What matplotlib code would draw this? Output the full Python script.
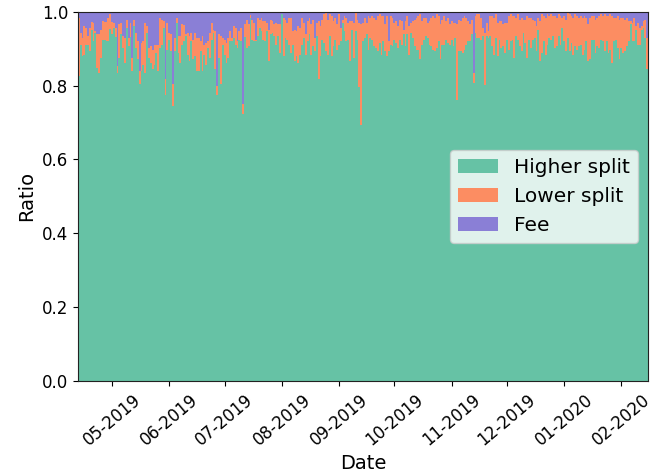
import numpy as np
import pandas as pd
import matplotlib
matplotlib.use("Agg")
import matplotlib.pyplot as plt
import matplotlib.dates as mdates

# daily ratios, 2019-04-13 .. 2020-02-15
start_date = "2019-04-13"

higher = [
    0.826, 0.911, 0.880, 0.884, 0.911, 0.911, 0.895, 0.952, 0.921, 0.943,
    0.848, 0.835, 0.875, 0.925, 0.925, 0.922, 0.921, 0.955, 0.940, 0.957,
    0.931, 0.835, 0.875, 0.939, 0.902, 0.862, 0.957, 0.907, 0.931, 0.839,
    0.961, 0.902, 0.871, 0.805, 0.839, 0.857, 0.835, 0.943, 0.875, 0.862,
    0.844, 0.857, 0.889, 0.839,
    0.902, 0.911, 0.957, 0.776, 0.898, 0.925, 0.893, 0.746, 0.893, 0.970,
    0.889, 0.862, 0.911, 0.921, 0.934, 0.884, 0.866, 0.921, 0.871, 0.880,
    0.839, 0.839, 0.893, 0.839, 0.884, 0.857, 0.902, 0.875, 0.925, 0.943,
    0.844, 0.774, 0.875, 0.805, 0.911, 0.884, 0.862, 0.875, 0.921, 0.921,
    0.930, 0.911, 0.902, 0.925, 0.921,
    0.724, 0.931, 0.902, 0.907, 0.984, 0.925, 0.921, 0.921, 0.934, 0.957,
    0.948, 0.925, 0.921, 0.948, 0.866, 0.939, 0.943, 0.934, 0.911, 0.934,
    0.889, 0.993, 0.880, 0.930, 0.925, 0.911, 0.889, 0.911, 0.866, 0.880,
    0.862, 0.884, 0.911, 0.930, 0.884, 0.921, 0.939, 0.884, 0.907, 0.893,
    0.934, 0.818, 0.880, 0.925,
    0.916, 0.893, 0.884, 0.934, 0.880, 0.907, 0.925, 0.898, 0.911, 0.921,
    0.970, 0.948, 0.921, 0.925, 0.866, 0.952, 0.875, 0.948, 0.925, 0.797,
    0.693, 0.921, 0.930, 0.939, 0.898, 0.930, 0.925, 0.907, 0.902, 0.893,
    0.916, 0.884, 0.921, 0.893, 0.880, 0.893, 0.911, 0.907, 0.925, 0.916,
    0.902, 0.925, 0.911, 0.939, 0.907,
    0.939, 0.884, 0.943, 0.930, 0.907, 0.898, 0.898, 0.871, 0.911, 0.925,
    0.934, 0.930, 0.911, 0.907, 0.898, 0.893, 0.902, 0.921, 0.871, 0.911,
    0.911, 0.925, 0.916, 0.911, 0.925, 0.907, 0.930, 0.762, 0.893, 0.893,
    0.889, 0.898, 0.911, 0.921, 0.921, 0.939, 0.808, 0.943, 0.930, 0.930,
    0.925, 0.934, 0.803, 0.934, 0.930,
    0.934, 0.907, 0.884, 0.930, 0.880, 0.925, 0.902, 0.907, 0.889, 0.925,
    0.898, 0.921, 0.925, 0.875, 0.934, 0.925, 0.907, 0.893, 0.943, 0.916,
    0.875, 0.925, 0.902, 0.925, 0.930, 0.893, 0.952, 0.866, 0.889, 0.921,
    0.884, 0.911, 0.930, 0.925, 0.934, 0.902, 0.907, 0.934, 0.911, 0.957,
    0.921, 0.893, 0.930, 0.893,
    0.916, 0.884, 0.907, 0.898, 0.907, 0.911, 0.884, 0.898, 0.921, 0.866,
    0.871, 0.925, 0.925, 0.889, 0.907, 0.902, 0.925, 0.921, 0.893, 0.921,
    0.889, 0.898, 0.862, 0.921, 0.925, 0.902, 0.871, 0.902, 0.889, 0.893,
    0.907, 0.921, 0.966, 0.921, 0.921, 0.952, 0.911, 0.911, 0.952, 0.957,
    0.930, 0.844,
]

fee = [
    0.016, 0.057, 0.070, 0.039, 0.043, 0.066, 0.043, 0.027, 0.030, 0.052,
    0.061, 0.060, 0.048, 0.025, 0.027, 0.027, 0.016, 0.005, 0.027, 0.030,
    0.043, 0.147, 0.034, 0.030, 0.066, 0.070, 0.021, 0.070, 0.030, 0.125,
    0.021, 0.057, 0.079, 0.161, 0.084, 0.079, 0.030, 0.039, 0.098, 0.093,
    0.102, 0.089, 0.089, 0.089,
    0.016, 0.021, 0.025, 0.183, 0.030, 0.057, 0.061, 0.195, 0.070, 0.016,
    0.066, 0.066, 0.034, 0.036, 0.061, 0.057, 0.066, 0.057, 0.075, 0.057,
    0.070, 0.070, 0.079, 0.066, 0.089, 0.084, 0.079, 0.057, 0.030, 0.048,
    0.052, 0.202, 0.061, 0.066, 0.070, 0.075, 0.084, 0.070, 0.052, 0.070,
    0.039, 0.043, 0.079, 0.052, 0.043,
    0.249, 0.033, 0.021, 0.034, 0.009, 0.021, 0.030, 0.075, 0.016, 0.021,
    0.016, 0.025, 0.025, 0.030, 0.048, 0.021, 0.025, 0.034, 0.030, 0.033,
    0.034, 0.005, 0.016, 0.021, 0.030, 0.016, 0.016, 0.052, 0.048, 0.052,
    0.039, 0.043, 0.016, 0.030, 0.061, 0.025, 0.016, 0.034, 0.021, 0.070,
    0.030, 0.025, 0.039, 0.021,
    0.007, 0.003, 0.021, 0.007, 0.012, 0.025, 0.016, 0.034, 0.007, 0.043,
    0.021, 0.012, 0.016, 0.030, 0.025, 0.025, 0.030, 0.003, 0.021, 0.030,
    0.034, 0.030, 0.016, 0.030, 0.012, 0.016, 0.012, 0.016, 0.021, 0.012,
    0.007, 0.012, 0.012, 0.034, 0.012, 0.079, 0.012, 0.016, 0.030, 0.025,
    0.039, 0.021, 0.025, 0.048, 0.025,
    0.012, 0.039, 0.030, 0.025, 0.021, 0.016, 0.012, 0.007, 0.025, 0.016,
    0.016, 0.030, 0.025, 0.016, 0.012, 0.016, 0.007, 0.012, 0.034, 0.021,
    0.012, 0.025, 0.016, 0.034, 0.025, 0.030, 0.030, 0.034, 0.021, 0.025,
    0.016, 0.012, 0.016, 0.025, 0.034, 0.021, 0.165, 0.012, 0.007, 0.007,
    0.016, 0.043, 0.057, 0.030, 0.052,
    0.012, 0.012, 0.016, 0.007, 0.030, 0.025, 0.025, 0.034, 0.030, 0.030,
    0.012, 0.007, 0.012, 0.012, 0.016, 0.007, 0.021, 0.016, 0.021, 0.021,
    0.012, 0.016, 0.016, 0.021, 0.025, 0.039, 0.016, 0.025, 0.007, 0.012,
    0.016, 0.007, 0.012, 0.007, 0.012, 0.012, 0.016, 0.007, 0.012, 0.016,
    0.012, 0.021, 0.003, 0.007,
    0.012, 0.016, 0.007, 0.012, 0.016, 0.012, 0.016, 0.012, 0.016, 0.034,
    0.016, 0.012, 0.012, 0.021, 0.016, 0.012, 0.007, 0.012, 0.007, 0.012,
    0.012, 0.007, 0.012, 0.016, 0.016, 0.012, 0.021, 0.016, 0.016, 0.021,
    0.016, 0.025, 0.025, 0.030, 0.016, 0.039, 0.030, 0.043, 0.039, 0.025,
    0.021, 0.070,
]

labels = ["Higher split", "Lower split", "Fee"]
colors = ["#66c2a5", "#fc8d62", "#8a7fd6"]

dates = pd.date_range(start_date, periods=len(higher), freq="D")
higher = np.array(higher)
fee = np.array(fee)
lower = 1.0 - higher - fee

fig, ax = plt.subplots(figsize=(6.6, 4.76), dpi=100)
fig.subplots_adjust(left=0.118, right=0.982, top=0.975, bottom=0.2)

ax.bar(dates, higher, width=1.0, color=colors[0], linewidth=0, label=labels[0])
ax.bar(dates, lower, width=1.0, bottom=higher, color=colors[1], linewidth=0, label=labels[1])
ax.bar(dates, fee, width=1.0, bottom=higher + lower, color=colors[2], linewidth=0, label=labels[2])

ax.set_xlim(dates[0] - pd.Timedelta(hours=12), dates[-1] + pd.Timedelta(hours=12))
ax.set_ylim(0, 1.0)
ax.xaxis.set_major_locator(mdates.MonthLocator())
ax.xaxis.set_major_formatter(mdates.DateFormatter("%m-%Y"))
plt.setp(ax.get_xticklabels(), rotation=40)
ax.tick_params(labelsize=12)
for s in ax.spines.values():
    s.set_color("#222222")

ax.set_xlabel("Date", fontsize=14)
ax.set_ylabel("Ratio", fontsize=14)
ax.legend(loc="center right", fontsize=14.5, framealpha=0.8)

plt.savefig("out.png", dpi=100)
plt.close()
